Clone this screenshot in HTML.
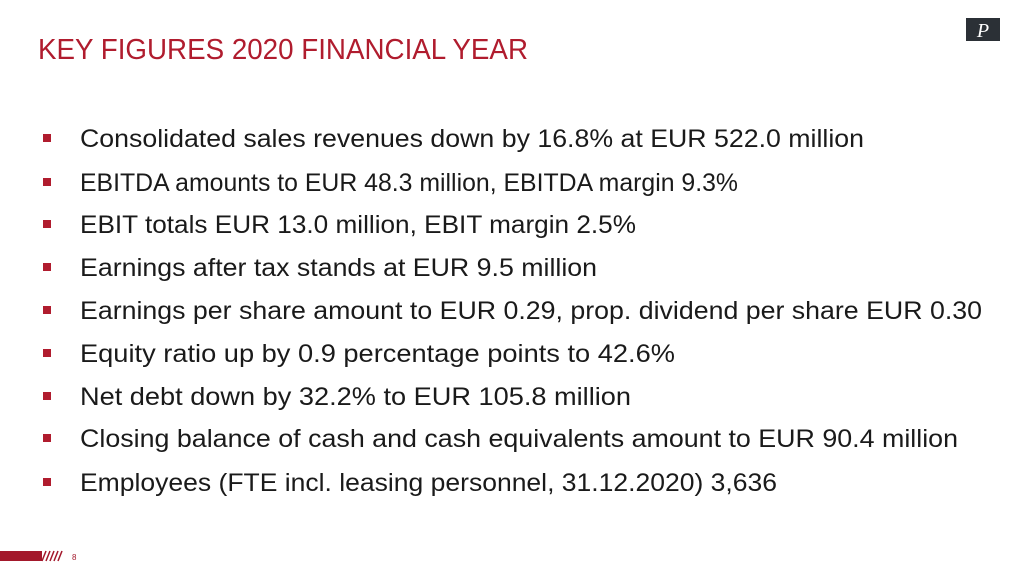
<!DOCTYPE html>
<html><head><meta charset="utf-8"><style>body{margin:0;background:#fff}svg{display:block}</style></head><body>
<svg width="1024" height="576" xmlns="http://www.w3.org/2000/svg" font-family="Liberation Sans, sans-serif">
<rect width="1024" height="576" fill="#fff"/>
<text x="38" y="59" font-size="29" fill="#b01c2e" textLength="490" lengthAdjust="spacingAndGlyphs">KEY FIGURES 2020 FINANCIAL YEAR</text>
<rect x="966" y="18" width="34" height="23" fill="#2b3036"/>
<text x="983" y="37" font-size="20" font-style="italic" font-family="Liberation Serif, serif" fill="#fff" text-anchor="middle">P</text>
<g fill="#b01c2e">
<rect x="43" y="134" width="8" height="8"/><rect x="43" y="178" width="8" height="8"/><rect x="43" y="220" width="8" height="8"/>
<rect x="43" y="263" width="8" height="8"/><rect x="43" y="306" width="8" height="8"/><rect x="43" y="349" width="8" height="8"/>
<rect x="43" y="392" width="8" height="8"/><rect x="43" y="434" width="8" height="8"/><rect x="43" y="478" width="8" height="8"/>
</g>
<g font-size="25" fill="#1a1a1a">
<text x="80" y="147" textLength="784" lengthAdjust="spacingAndGlyphs">Consolidated sales revenues down by 16.8% at EUR 522.0 million</text>
<text x="80" y="191" textLength="658" lengthAdjust="spacingAndGlyphs">EBITDA amounts to EUR 48.3 million, EBITDA margin 9.3%</text>
<text x="80" y="233" textLength="556" lengthAdjust="spacingAndGlyphs">EBIT totals EUR 13.0 million, EBIT margin 2.5%</text>
<text x="80" y="276" textLength="517" lengthAdjust="spacingAndGlyphs">Earnings after tax stands at EUR 9.5 million</text>
<text x="80" y="319" textLength="902" lengthAdjust="spacingAndGlyphs">Earnings per share amount to EUR 0.29, prop. dividend per share EUR 0.30</text>
<text x="80" y="362" textLength="595" lengthAdjust="spacingAndGlyphs">Equity ratio up by 0.9 percentage points to 42.6%</text>
<text x="80" y="405" textLength="551" lengthAdjust="spacingAndGlyphs">Net debt down by 32.2% to EUR 105.8 million</text>
<text x="80" y="447" textLength="878" lengthAdjust="spacingAndGlyphs">Closing balance of cash and cash equivalents amount to EUR 90.4 million</text>
<text x="80" y="491" textLength="697" lengthAdjust="spacingAndGlyphs">Employees (FTE incl. leasing personnel, 31.12.2020) 3,636</text>
</g>
<rect x="0" y="551" width="42" height="10" fill="#a3182b"/>
<g stroke="#a3182b" stroke-width="1.5">
<line x1="42" y1="561" x2="46" y2="551"/><line x1="46" y1="561" x2="50" y2="551"/><line x1="50" y1="561" x2="54" y2="551"/><line x1="54" y1="561" x2="58" y2="551"/><line x1="58" y1="561" x2="62" y2="551"/>
</g>
<text x="72" y="560" font-size="8" fill="#a3182b">8</text>
</svg>
</body></html>
